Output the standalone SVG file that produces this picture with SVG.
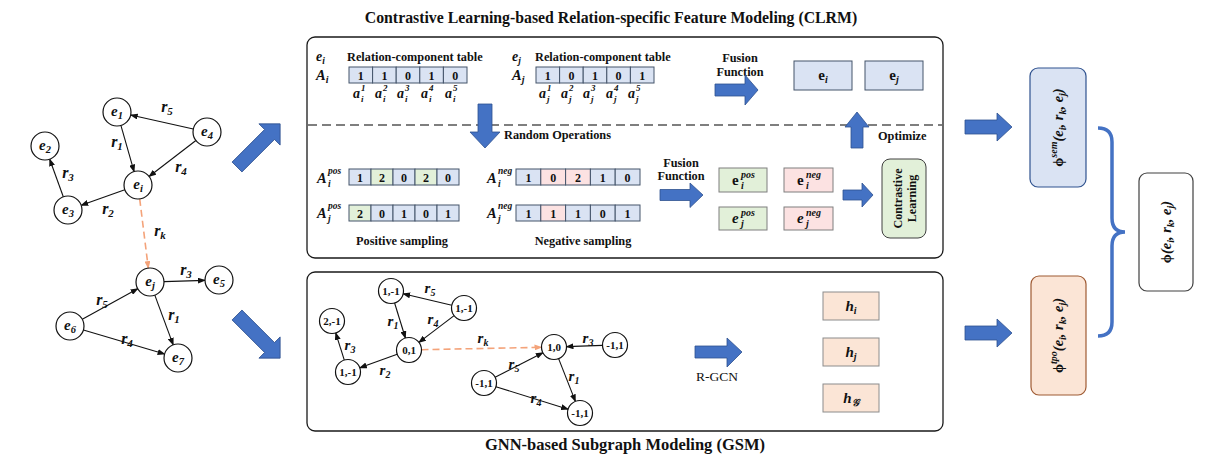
<svg xmlns="http://www.w3.org/2000/svg" width="1228" height="460" viewBox="0 0 1228 460">
<style>
.b{font-family:"Liberation Serif","Times New Roman",serif;font-weight:bold;fill:#111}
.bi{font-family:"Liberation Serif","Times New Roman",serif;font-weight:bold;font-style:italic;fill:#111}
.r{font-family:"Liberation Serif","Times New Roman",serif;fill:#111}
.node{fill:#fff;stroke:#111;stroke-width:1.2}
.edge{stroke:#111;stroke-width:1.1;fill:none}
.dash{stroke:#F4A37A;stroke-width:1.6;fill:none;stroke-dasharray:7 4}
.blk{fill:#4472C4;stroke:#2F528F;stroke-width:0.8}
.cb{fill:#DAE3F3;stroke:#44546A;stroke-width:1}
.cg{fill:#E2F0D9;stroke:#44546A;stroke-width:1}
.cp{fill:#FCE2E2;stroke:#44546A;stroke-width:1}
.panel{fill:#fff;stroke:#1a1a1a;stroke-width:1.3}
</style>
<defs>
<marker id="ah" markerWidth="8" markerHeight="6" refX="7" refY="3" orient="auto" markerUnits="userSpaceOnUse"><path d="M0,0 L8,3 L0,6 z" fill="#111"/></marker>
<marker id="ao" markerWidth="8" markerHeight="6" refX="7" refY="3" orient="auto" markerUnits="userSpaceOnUse"><path d="M0,0 L8,3 L0,6 z" fill="#F4A37A"/></marker>
</defs>

<!-- Titles -->
<text class="b" x="611" y="23" font-size="15.8" text-anchor="middle">Contrastive Learning-based Relation-specific Feature Modeling (CLRM)</text>
<text class="b" x="625" y="450" font-size="16.5" text-anchor="middle">GNN-based Subgraph Modeling (GSM)</text>

<!-- Left knowledge graph -->
<g id="left-graph-edges">
<line class="edge" x1="193.3" y1="129" x2="130.7" y2="115" marker-end="url(#ah)"/>
<line class="edge" x1="120.9" y1="125.4" x2="134.1" y2="171.6" marker-end="url(#ah)"/>
<line class="edge" x1="195.9" y1="140.5" x2="149.1" y2="176.5" marker-end="url(#ah)"/>
<line class="edge" x1="124.8" y1="189.7" x2="81.2" y2="205.3" marker-end="url(#ah)"/>
<line class="edge" x1="63.3" y1="196.8" x2="49.7" y2="159.2" marker-end="url(#ah)"/>
<line class="dash" x1="139.7" y1="198.9" x2="148.3" y2="268.1" marker-end="url(#ao)"/>
<line class="edge" x1="164" y1="281.6" x2="205" y2="280.4" marker-end="url(#ah)"/>
<line class="edge" x1="82.3" y1="319.3" x2="137.7" y2="288.7" marker-end="url(#ah)"/>
<line class="edge" x1="154.8" y1="295.1" x2="173.2" y2="344.9" marker-end="url(#ah)"/>
<line class="edge" x1="83.4" y1="330" x2="164.6" y2="354" marker-end="url(#ah)"/>
<text class="bi" x="167" y="112" font-size="16" text-anchor="middle">r<tspan dy="3" font-size="11">5</tspan></text>
<text class="bi" x="117" y="147" font-size="16" text-anchor="middle">r<tspan dy="3" font-size="11">1</tspan></text>
<text class="bi" x="181" y="172" font-size="16" text-anchor="middle">r<tspan dy="3" font-size="11">4</tspan></text>
<text class="bi" x="108" y="214" font-size="16" text-anchor="middle">r<tspan dy="3" font-size="11">2</tspan></text>
<text class="bi" x="68" y="178" font-size="16" text-anchor="middle">r<tspan dy="3" font-size="11">3</tspan></text>
<text class="bi" x="160" y="236" font-size="16" text-anchor="middle">r<tspan dy="3" font-size="11">k</tspan></text>
<text class="bi" x="186" y="275" font-size="16" text-anchor="middle">r<tspan dy="3" font-size="11">3</tspan></text>
<text class="bi" x="102" y="305" font-size="16" text-anchor="middle">r<tspan dy="3" font-size="11">5</tspan></text>
<text class="bi" x="174" y="320" font-size="16" text-anchor="middle">r<tspan dy="3" font-size="11">1</tspan></text>
<text class="bi" x="127" y="344" font-size="16" text-anchor="middle">r<tspan dy="3" font-size="11">4</tspan></text>
</g>
<g id="node-e1"><circle class="node" cx="117" cy="112" r="14"/><text class="bi" x="117" y="116" font-size="15" text-anchor="middle">e<tspan dy="3" font-size="10.5">1</tspan></text></g>
<g id="node-e4"><circle class="node" cx="207" cy="132" r="14"/><text class="bi" x="207" y="136" font-size="15" text-anchor="middle">e<tspan dy="3" font-size="10.5">4</tspan></text></g>
<g id="node-e2"><circle class="node" cx="45" cy="146" r="14"/><text class="bi" x="45" y="150" font-size="15" text-anchor="middle">e<tspan dy="3" font-size="10.5">2</tspan></text></g>
<g id="node-ei"><circle class="node" cx="138" cy="185" r="14"/><text class="bi" x="138" y="189" font-size="15" text-anchor="middle">e<tspan dy="3" font-size="10.5">i</tspan></text></g>
<g id="node-e3"><circle class="node" cx="68" cy="210" r="14"/><text class="bi" x="68" y="214" font-size="15" text-anchor="middle">e<tspan dy="3" font-size="10.5">3</tspan></text></g>
<g id="node-ej"><circle class="node" cx="150" cy="282" r="14"/><text class="bi" x="150" y="286" font-size="15" text-anchor="middle">e<tspan dy="3" font-size="10.5">j</tspan></text></g>
<g id="node-e5"><circle class="node" cx="219" cy="280" r="14"/><text class="bi" x="219" y="284" font-size="15" text-anchor="middle">e<tspan dy="3" font-size="10.5">5</tspan></text></g>
<g id="node-e6"><circle class="node" cx="70" cy="326" r="14"/><text class="bi" x="70" y="330" font-size="15" text-anchor="middle">e<tspan dy="3" font-size="10.5">6</tspan></text></g>
<g id="node-e7"><circle class="node" cx="178" cy="358" r="14"/><text class="bi" x="178" y="362" font-size="15" text-anchor="middle">e<tspan dy="3" font-size="10.5">7</tspan></text></g>

<!-- Big arrows and brace -->
<g id="connectors-big">
<path class="blk" d="M0,-7 L46,-7 L46,-15 L61,0 L46,15 L46,7 L0,7 Z" transform="translate(237,167) rotate(-45)"/>
<path class="blk" d="M0,-7 L46,-7 L46,-15 L61,0 L46,15 L46,7 L0,7 Z" transform="translate(237,315) rotate(45)"/>
<path class="blk" d="M965,120 L997,120 L997,113 L1012,127 L997,141 L997,134 L965,134 Z"/>
<path class="blk" d="M965,326 L997,326 L997,319 L1012,333 L997,347 L997,340 L965,340 Z"/>
<path d="M1098,128 Q1112,128 1112,142 L1112,218 Q1112,232 1125,232 Q1112,232 1112,246 L1112,322 Q1112,336 1098,336" fill="none" stroke="#4472C4" stroke-width="3.5"/>
</g>

<!-- CLRM panel -->
<g id="clrm">
<rect class="panel" x="307" y="37" width="636" height="221" rx="8"/>
<line x1="308" y1="125" x2="942" y2="125" stroke="#7F7F7F" stroke-width="2" stroke-dasharray="9 5"/>

<text class="bi" x="316" y="61" font-size="14">e<tspan dy="3" font-size="9.5">i</tspan></text>
<text class="b" x="347" y="61" font-size="12.3">Relation-component table</text>
<text class="bi" x="316" y="80" font-size="14.5">A<tspan dy="3" font-size="10">i</tspan></text>
<g id="table-Ai">
<rect class="cb" x="349" y="67" width="23.6" height="16"/><rect class="cb" x="372.6" y="67" width="23.6" height="16"/><rect class="cb" x="396.2" y="67" width="23.6" height="16"/><rect class="cb" x="419.8" y="67" width="23.6" height="16"/><rect class="cb" x="443.4" y="67" width="23.6" height="16"/>
<text class="b" font-size="12" y="79.5" text-anchor="middle"><tspan x="360.8">1</tspan><tspan x="384.4">1</tspan><tspan x="408">0</tspan><tspan x="431.6">1</tspan><tspan x="455.2">0</tspan></text>
</g>
<g id="labels-ai">
<text class="bi" x="353" y="98" font-size="14">a</text><text class="bi" x="361" y="91" font-size="9">1</text><text class="bi" x="361" y="102" font-size="9">i</text>
<text class="bi" x="375" y="98" font-size="14">a</text><text class="bi" x="383" y="91" font-size="9">2</text><text class="bi" x="383" y="102" font-size="9">i</text>
<text class="bi" x="397" y="98" font-size="14">a</text><text class="bi" x="405" y="91" font-size="9">3</text><text class="bi" x="405" y="102" font-size="9">i</text>
<text class="bi" x="421" y="98" font-size="14">a</text><text class="bi" x="429" y="91" font-size="9">4</text><text class="bi" x="429" y="102" font-size="9">i</text>
<text class="bi" x="445" y="98" font-size="14">a</text><text class="bi" x="453" y="91" font-size="9">5</text><text class="bi" x="453" y="102" font-size="9">i</text>
</g>

<text class="bi" x="512" y="61" font-size="14">e<tspan dy="3" font-size="9.5">j</tspan></text>
<text class="b" x="535" y="61" font-size="12.3">Relation-component table</text>
<text class="bi" x="512" y="80" font-size="14.5">A<tspan dy="3" font-size="10">j</tspan></text>
<g id="table-Aj">
<rect class="cb" x="536" y="67" width="23.6" height="16"/><rect class="cb" x="559.6" y="67" width="23.6" height="16"/><rect class="cb" x="583.2" y="67" width="23.6" height="16"/><rect class="cb" x="606.8" y="67" width="23.6" height="16"/><rect class="cb" x="630.4" y="67" width="23.6" height="16"/>
<text class="b" font-size="12" y="79.5" text-anchor="middle"><tspan x="547.8">1</tspan><tspan x="571.4">0</tspan><tspan x="595">1</tspan><tspan x="618.6">0</tspan><tspan x="642.2">1</tspan></text>
</g>
<g id="labels-aj">
<text class="bi" x="539" y="98" font-size="14">a</text><text class="bi" x="547" y="91" font-size="9">1</text><text class="bi" x="547" y="102" font-size="9">j</text>
<text class="bi" x="561" y="98" font-size="14">a</text><text class="bi" x="569" y="91" font-size="9">2</text><text class="bi" x="569" y="102" font-size="9">j</text>
<text class="bi" x="583" y="98" font-size="14">a</text><text class="bi" x="591" y="91" font-size="9">3</text><text class="bi" x="591" y="102" font-size="9">j</text>
<text class="bi" x="606" y="98" font-size="14">a</text><text class="bi" x="614" y="91" font-size="9">4</text><text class="bi" x="614" y="102" font-size="9">j</text>
<text class="bi" x="628" y="98" font-size="14">a</text><text class="bi" x="636" y="91" font-size="9">5</text><text class="bi" x="636" y="102" font-size="9">j</text>
</g>

<text class="b" font-size="12.3" text-anchor="middle"><tspan x="740" y="62">Fusion</tspan><tspan x="740" y="76">Function</tspan></text>
<path class="blk" d="M715,84 L745,84 L745,75 L758,90 L745,105 L745,96 L715,96 Z"/>
<g id="box-ei"><rect class="cb" x="794" y="61" width="58" height="29"/><text class="b" x="823" y="80" font-size="15" text-anchor="middle">e<tspan dy="3" font-size="10" font-style="italic">i</tspan></text></g>
<g id="box-ej"><rect class="cb" x="865" y="61" width="58" height="29"/><text class="b" x="894" y="80" font-size="15" text-anchor="middle">e<tspan dy="3" font-size="10" font-style="italic">j</tspan></text></g>
<path class="blk" d="M857,112 L869,127 L863,127 L863,148 L851,148 L851,127 L845,127 Z"/>
<text class="b" x="878" y="140" font-size="12.3">Optimize</text>

<path class="blk" d="M478,104 L492,104 L492,132 L500,132 L485,148 L470,132 L478,132 Z"/>
<text class="b" x="504" y="139" font-size="12.3">Random Operations</text>

<!-- sampling tables -->
<text class="bi" x="317" y="183" font-size="14.5">A</text><text class="bi" x="328" y="174" font-size="9.5">pos</text><text class="bi" x="328" y="187" font-size="9.5">i</text>
<g id="table-pos-i">
<rect class="cb" x="349" y="169" width="22" height="16"/><rect class="cg" x="371" y="169" width="22" height="16"/><rect class="cb" x="393" y="169" width="22" height="16"/><rect class="cg" x="415" y="169" width="22" height="16"/><rect class="cb" x="437" y="169" width="22" height="16"/>
<text class="b" font-size="12" y="181.5" text-anchor="middle"><tspan x="360">1</tspan><tspan x="382">2</tspan><tspan x="404">0</tspan><tspan x="426">2</tspan><tspan x="448">0</tspan></text>
</g>
<text class="bi" x="317" y="218" font-size="14.5">A</text><text class="bi" x="328" y="209" font-size="9.5">pos</text><text class="bi" x="328" y="222" font-size="9.5">j</text>
<g id="table-pos-j">
<rect class="cg" x="349" y="205" width="22" height="16"/><rect class="cb" x="371" y="205" width="22" height="16"/><rect class="cb" x="393" y="205" width="22" height="16"/><rect class="cb" x="415" y="205" width="22" height="16"/><rect class="cb" x="437" y="205" width="22" height="16"/>
<text class="b" font-size="12" y="217.5" text-anchor="middle"><tspan x="360">2</tspan><tspan x="382">0</tspan><tspan x="404">1</tspan><tspan x="426">0</tspan><tspan x="448">1</tspan></text>
</g>
<text class="b" x="402" y="245" font-size="12.3" text-anchor="middle">Positive sampling</text>

<text class="bi" x="487" y="183" font-size="14.5">A</text><text class="bi" x="498" y="174" font-size="9.5">neg</text><text class="bi" x="498" y="187" font-size="9.5">i</text>
<g id="table-neg-i">
<rect class="cb" x="516" y="169" width="24.8" height="16"/><rect class="cp" x="540.8" y="169" width="24.8" height="16"/><rect class="cp" x="565.6" y="169" width="24.8" height="16"/><rect class="cb" x="590.4" y="169" width="24.8" height="16"/><rect class="cb" x="615.2" y="169" width="24.8" height="16"/>
<text class="b" font-size="12" y="181.5" text-anchor="middle"><tspan x="528.4">1</tspan><tspan x="553.2">0</tspan><tspan x="578">2</tspan><tspan x="602.8">1</tspan><tspan x="627.6">0</tspan></text>
</g>
<text class="bi" x="487" y="218" font-size="14.5">A</text><text class="bi" x="498" y="209" font-size="9.5">neg</text><text class="bi" x="498" y="222" font-size="9.5">j</text>
<g id="table-neg-j">
<rect class="cb" x="516" y="205" width="24.8" height="16"/><rect class="cp" x="540.8" y="205" width="24.8" height="16"/><rect class="cb" x="565.6" y="205" width="24.8" height="16"/><rect class="cb" x="590.4" y="205" width="24.8" height="16"/><rect class="cb" x="615.2" y="205" width="24.8" height="16"/>
<text class="b" font-size="12" y="217.5" text-anchor="middle"><tspan x="528.4">1</tspan><tspan x="553.2">1</tspan><tspan x="578">1</tspan><tspan x="602.8">0</tspan><tspan x="627.6">1</tspan></text>
</g>
<text class="b" x="583" y="245" font-size="12.3" text-anchor="middle">Negative sampling</text>

<text class="b" font-size="12.3" text-anchor="middle"><tspan x="681" y="167">Fusion</tspan><tspan x="681" y="180">Function</tspan></text>
<path class="blk" d="M660,189.5 L690,189.5 L690,183 L703,195 L690,207.5 L690,200.5 L660,200.5 Z"/>
<g id="box-ei-pos"><rect x="719" y="168" width="48" height="24" fill="#E2F0D9" stroke="#7F7F7F"/><text class="b" x="732" y="185" font-size="15">e</text><text class="bi" x="741" y="178" font-size="10">pos</text><text class="bi" x="741" y="189" font-size="10">i</text></g>
<g id="box-ei-neg"><rect x="784" y="168" width="49" height="24" fill="#FCE2E2" stroke="#7F7F7F"/><text class="b" x="797" y="185" font-size="15">e</text><text class="bi" x="806" y="178" font-size="10">neg</text><text class="bi" x="806" y="189" font-size="10">i</text></g>
<g id="box-ej-pos"><rect x="719" y="207" width="48" height="23" fill="#E2F0D9" stroke="#7F7F7F"/><text class="bi" x="732" y="223" font-size="15">e</text><text class="bi" x="741" y="216" font-size="10">pos</text><text class="bi" x="741" y="227" font-size="10">j</text></g>
<g id="box-ej-neg"><rect x="784" y="207" width="49" height="23" fill="#FCE2E2" stroke="#7F7F7F"/><text class="bi" x="797" y="223" font-size="15">e</text><text class="bi" x="806" y="216" font-size="10">neg</text><text class="bi" x="806" y="227" font-size="10">j</text></g>
<path class="blk" d="M843,190 L862,190 L862,183 L873,195 L862,207 L862,200 L843,200 Z"/>
<g id="box-contrastive"><rect x="882" y="159" width="44" height="79" rx="8" fill="#E2F0D9" stroke="#404040"/>
<text class="b" font-size="12" text-anchor="middle" transform="translate(902,198.5) rotate(-90)">Contrastive</text>
<text class="b" font-size="12" text-anchor="middle" transform="translate(916,198.5) rotate(-90)">Learning</text></g>
</g>

<!-- GSM panel -->
<g id="gsm">
<rect class="panel" x="307" y="272" width="636" height="159" rx="8"/>
<g id="gsm-edges">
<line class="edge" x1="451.8" y1="305.2" x2="403.2" y2="293.8" marker-end="url(#ah)"/>
<line class="edge" x1="394.6" y1="303" x2="405.4" y2="338" marker-end="url(#ah)"/>
<line class="edge" x1="454.1" y1="315.6" x2="418.9" y2="342.4" marker-end="url(#ah)"/>
<line class="edge" x1="397.2" y1="354.2" x2="359.8" y2="367.8" marker-end="url(#ah)"/>
<line class="edge" x1="344.3" y1="360.1" x2="335.7" y2="332.9" marker-end="url(#ah)"/>
<line class="dash" x1="421.5" y1="349.7" x2="541.5" y2="347.3" marker-end="url(#ao)"/>
<line class="edge" x1="602.5" y1="345.4" x2="566.5" y2="346.6" marker-end="url(#ah)"/>
<line class="edge" x1="495.1" y1="377.3" x2="542.9" y2="352.7" marker-end="url(#ah)"/>
<line class="edge" x1="558.6" y1="358.6" x2="575.4" y2="401.4" marker-end="url(#ah)"/>
<line class="edge" x1="495.9" y1="386.7" x2="568.1" y2="409.3" marker-end="url(#ah)"/>
<text class="bi" x="430" y="293" font-size="15" text-anchor="middle">r<tspan dy="3" font-size="10">5</tspan></text>
<text class="bi" x="393" y="326" font-size="15" text-anchor="middle">r<tspan dy="3" font-size="10">1</tspan></text>
<text class="bi" x="433" y="324" font-size="15" text-anchor="middle">r<tspan dy="3" font-size="10">4</tspan></text>
<text class="bi" x="385" y="375" font-size="15" text-anchor="middle">r<tspan dy="3" font-size="10">2</tspan></text>
<text class="bi" x="350" y="350" font-size="15" text-anchor="middle">r<tspan dy="3" font-size="10">3</tspan></text>
<text class="bi" x="483" y="343" font-size="15" text-anchor="middle">r<tspan dy="3" font-size="10">k</tspan></text>
<text class="bi" x="588" y="343" font-size="15" text-anchor="middle">r<tspan dy="3" font-size="10">3</tspan></text>
<text class="bi" x="514" y="369" font-size="15" text-anchor="middle">r<tspan dy="3" font-size="10">5</tspan></text>
<text class="bi" x="574" y="381" font-size="15" text-anchor="middle">r<tspan dy="3" font-size="10">1</tspan></text>
<text class="bi" x="536" y="403" font-size="15" text-anchor="middle">r<tspan dy="3" font-size="10">4</tspan></text>
</g>
<g id="gn-a"><circle class="node" cx="391" cy="291" r="12.5"/><text class="b" x="391" y="295" font-size="11" text-anchor="middle">1,-1</text></g>
<g id="gn-b"><circle class="node" cx="464" cy="308" r="12.5"/><text class="b" x="464" y="312" font-size="11" text-anchor="middle">1,-1</text></g>
<g id="gn-c"><circle class="node" cx="332" cy="321" r="12.5"/><text class="b" x="332" y="325" font-size="11" text-anchor="middle">2,-1</text></g>
<g id="gn-d"><circle class="node" cx="409" cy="350" r="12.5"/><text class="b" x="409" y="354" font-size="11" text-anchor="middle">0,1</text></g>
<g id="gn-e"><circle class="node" cx="348" cy="372" r="12.5"/><text class="b" x="348" y="376" font-size="11" text-anchor="middle">1,-1</text></g>
<g id="gn-f"><circle class="node" cx="554" cy="347" r="12.5"/><text class="b" x="554" y="351" font-size="11" text-anchor="middle">1,0</text></g>
<g id="gn-g"><circle class="node" cx="615" cy="345" r="12.5"/><text class="b" x="615" y="349" font-size="11" text-anchor="middle">-1,1</text></g>
<g id="gn-h"><circle class="node" cx="484" cy="383" r="12.5"/><text class="b" x="484" y="387" font-size="11" text-anchor="middle">-1,1</text></g>
<g id="gn-i"><circle class="node" cx="580" cy="413" r="12.5"/><text class="b" x="580" y="417" font-size="11" text-anchor="middle">-1,1</text></g>

<path class="blk" d="M695,346 L727,346 L727,338 L742,352 L727,367 L727,358 L695,358 Z"/>
<text class="r" x="717" y="381" font-size="13.5" text-anchor="middle">R-GCN</text>
<g id="box-hi"><rect x="823" y="292" width="56" height="28" fill="#FBE5D6" stroke="#8C8C8C"/><text class="bi" x="851" y="311" font-size="15" text-anchor="middle">h<tspan dy="3" font-size="10">i</tspan></text></g>
<g id="box-hj"><rect x="823" y="338" width="56" height="28" fill="#FBE5D6" stroke="#8C8C8C"/><text class="bi" x="851" y="357" font-size="15" text-anchor="middle">h<tspan dy="3" font-size="10">j</tspan></text></g>
<g id="box-hg"><rect x="823" y="384" width="56" height="28" fill="#FBE5D6" stroke="#8C8C8C"/><text class="bi" x="851" y="403" font-size="15" text-anchor="middle">h<tspan dy="3" font-size="10" font-family="DejaVu Sans, serif">𝒢</tspan></text></g>
</g>

<!-- Right side -->
<g id="phi-sem"><rect x="1030" y="68" width="56" height="119" rx="8" fill="#DAE3F3" stroke="#2F528F" stroke-width="1.2"/>
<text class="bi" font-size="14.5" text-anchor="middle" transform="translate(1063,127.5) rotate(-90)"><tspan font-style="normal">ϕ</tspan><tspan dy="-6" font-size="10">sem</tspan><tspan dy="6">(e</tspan><tspan dy="3" font-size="10">i</tspan><tspan dy="-3">, r</tspan><tspan dy="3" font-size="10">k</tspan><tspan dy="-3">, e</tspan><tspan dy="3" font-size="10">j</tspan><tspan dy="-3">)</tspan></text></g>
<g id="phi-tpo"><rect x="1031" y="276" width="55" height="119" rx="8" fill="#FBE5D6" stroke="#9E5A33" stroke-width="1.2"/>
<text class="bi" font-size="14.5" text-anchor="middle" transform="translate(1063,335.5) rotate(-90)"><tspan font-style="normal">ϕ</tspan><tspan dy="-6" font-size="10">tpo</tspan><tspan dy="6">(e</tspan><tspan dy="3" font-size="10">i</tspan><tspan dy="-3">, r</tspan><tspan dy="3" font-size="10">k</tspan><tspan dy="-3">, e</tspan><tspan dy="3" font-size="10">j</tspan><tspan dy="-3">)</tspan></text></g>
<g id="phi"><rect x="1139" y="173" width="54" height="118" rx="8" fill="#fff" stroke="#404040" stroke-width="1.2"/>
<text class="bi" font-size="14.5" text-anchor="middle" transform="translate(1171,232) rotate(-90)"><tspan font-style="normal">ϕ</tspan>(e<tspan dy="3" font-size="10">i</tspan><tspan dy="-3">, r</tspan><tspan dy="3" font-size="10">k</tspan><tspan dy="-3">, e</tspan><tspan dy="3" font-size="10">j</tspan><tspan dy="-3">)</tspan></text></g>
</svg>
